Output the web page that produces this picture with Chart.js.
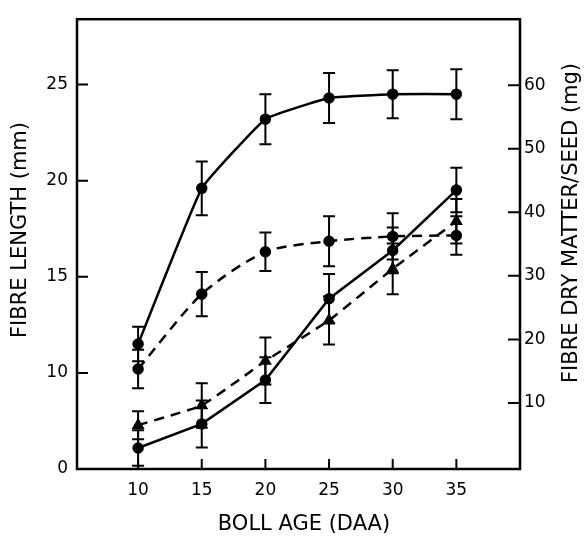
<!DOCTYPE html>
<html>
<head>
<meta charset="utf-8">
<script src="https://cdn.jsdelivr.net/npm/chart.js@4.4.0/dist/chart.umd.min.js"></script>
<style>
  html, body { margin: 0; padding: 0; background: #fff; }
  #wrap { width: 588px; height: 537px; }
</style>
</head>
<body>
<div id="wrap"><canvas id="fibreChart" width="588" height="537"></canvas></div>
<script>
const bollAge = [10, 15, 20, 25, 30, 35];

// fibre length (mm) - left axis
const lengthSolid = [11.5, 19.6, 23.2, 24.3, 24.5, 24.5];
const lengthSolidErr = [0.9, 1.4, 1.3, 1.3, 1.25, 1.3];
const lengthDashed = [10.2, 14.1, 16.3, 16.85, 17.1, 17.15];
const lengthDashedErr = [1.0, 1.15, 1.0, 1.3, 1.2, 1.0];

// fibre dry matter / seed (mg) - right axis
const drySolid = [2.9, 6.7, 13.6, 26.4, 34.0, 43.5];
const drySolidErr = [2.8, 3.7, 3.6, 3.9, 3.6, 3.5];
const dryDashed = [6.5, 9.6, 16.6, 23.0, 31.1, 38.6];
const dryDashedErr = [2.2, 3.5, 3.7, 3.8, 4.0, 3.5];

const xTicks = [10, 15, 20, 25, 30, 35];
// left axis is broken: its bottom tick is labelled 0
const leftTicks = [5, 10, 15, 20, 25];
const leftTickLabels = ["0", "10", "15", "20", "25"];
const rightTicks = [10, 20, 30, 40, 50, 60];

const xTitle = "BOLL AGE (DAA)";
const leftTitle = "FIBRE LENGTH (mm)";
const rightTitle = "FIBRE DRY MATTER/SEED (mg)";

Chart.defaults.font.family = "DejaVu Sans";
Chart.defaults.font.size = 17;
Chart.defaults.color = "#000";

const toPoints = (vals) => bollAge.map((x, i) => ({ x: x, y: vals[i] }));

const errorBars = {
  id: "errorBars",
  afterDatasetsDraw(chart) {
    const ctx = chart.ctx;
    chart.data.datasets.forEach((ds, di) => {
      const meta = chart.getDatasetMeta(di);
      const yScale = chart.scales[ds.yAxisID];
      ctx.save();
      ctx.strokeStyle = "#000";
      ctx.lineWidth = 2;
      meta.data.forEach((pt, i) => {
        const v = ds.data[i].y;
        const e = ds.errors[i];
        const top = yScale.getPixelForValue(v + e);
        const bot = yScale.getPixelForValue(v - e);
        ctx.beginPath();
        ctx.moveTo(pt.x, top);
        ctx.lineTo(pt.x, bot);
        ctx.moveTo(pt.x - 6, top);
        ctx.lineTo(pt.x + 6, top);
        ctx.moveTo(pt.x - 6, bot);
        ctx.lineTo(pt.x + 6, bot);
        ctx.stroke();
      });
      ctx.restore();
    });
  }
};

// box round the plot, inward tick marks, axis titles
const frameAndTitles = {
  id: "frameAndTitles",
  afterDraw(chart) {
    const { ctx, chartArea: a, scales } = chart;
    ctx.save();
    ctx.strokeStyle = "#000";
    ctx.lineWidth = 2.5;
    ctx.strokeRect(a.left, a.top, a.right - a.left, a.bottom - a.top);

    ctx.lineWidth = 2;
    ctx.beginPath();
    scales.x.ticks.forEach((t) => {
      const px = scales.x.getPixelForValue(t.value);
      ctx.moveTo(px, a.bottom);
      ctx.lineTo(px, a.bottom - 10);
    });
    scales.yLen.ticks.forEach((t) => {
      if (t.value === leftTicks[0]) return;
      const py = scales.yLen.getPixelForValue(t.value);
      ctx.moveTo(a.left, py);
      ctx.lineTo(a.left + 11, py);
    });
    scales.yDry.ticks.forEach((t) => {
      const py = scales.yDry.getPixelForValue(t.value);
      ctx.moveTo(a.right, py);
      ctx.lineTo(a.right - 12, py);
    });
    ctx.stroke();

    ctx.fillStyle = "#000";
    ctx.font = "21px 'DejaVu Sans'";
    ctx.textAlign = "center";
    ctx.textBaseline = "middle";
    ctx.fillText(xTitle, 304, 525);

    ctx.save();
    ctx.translate(21, 230);
    ctx.rotate(-Math.PI / 2);
    ctx.fillText(leftTitle, 0, 0);
    ctx.restore();

    ctx.save();
    ctx.translate(572, 223);
    ctx.rotate(-Math.PI / 2);
    ctx.fillText(rightTitle, 0, 0);
    ctx.restore();

    ctx.restore();
  }
};

const lineStyle = {
  borderColor: "#000",
  backgroundColor: "#000",
  borderWidth: 2.5,
  pointRadius: 4.5,
  pointBackgroundColor: "#000",
  pointBorderColor: "#000",
  fill: false
};

new Chart(document.getElementById("fibreChart").getContext("2d"), {
  type: "line",
  data: {
    datasets: [
      { ...lineStyle, label: "length solid", data: toPoints(lengthSolid), errors: lengthSolidErr, yAxisID: "yLen", tension: 0.1 },
      { ...lineStyle, label: "length dashed", data: toPoints(lengthDashed), errors: lengthDashedErr, yAxisID: "yLen", borderDash: [10, 7], tension: 0.25 },
      { ...lineStyle, label: "dry solid", data: toPoints(drySolid), errors: drySolidErr, yAxisID: "yDry", tension: 0 },
      { ...lineStyle, label: "dry dashed", data: toPoints(dryDashed), errors: dryDashedErr, yAxisID: "yDry", borderDash: [10, 7], pointStyle: "triangle", pointRadius: 5, tension: 0.1 }
    ]
  },
  options: {
    responsive: false,
    animation: false,
    layout: { padding: { top: 10, left: 0, right: 0, bottom: 0 } },
    plugins: { legend: { display: false }, tooltip: { enabled: false } },
    scales: {
      x: {
        type: "linear",
        min: 5.2,
        max: 40,
        grid: { display: false, drawTicks: false },
        border: { display: false },
        afterBuildTicks: (s) => { s.ticks = xTicks.map((v) => ({ value: v })); },
        afterFit: (s) => { s.height = 68; },
        ticks: { padding: 11, maxRotation: 0 }
      },
      yLen: {
        type: "linear",
        position: "left",
        min: 5,
        max: 28.4,
        grid: { display: false, drawTicks: false },
        border: { display: false },
        afterBuildTicks: (s) => { s.ticks = leftTicks.map((v) => ({ value: v })); },
        afterFit: (s) => { s.width = 77; },
        ticks: { padding: 9, callback: (v, i) => leftTickLabels[i] }
      },
      yDry: {
        type: "linear",
        position: "right",
        min: -0.4,
        max: 70.4,
        grid: { display: false, drawTicks: false },
        border: { display: false },
        afterBuildTicks: (s) => { s.ticks = rightTicks.map((v) => ({ value: v })); },
        afterFit: (s) => { s.width = 68; },
        ticks: { padding: 4 }
      }
    }
  },
  plugins: [errorBars, frameAndTitles]
});
</script>
</body>
</html>
